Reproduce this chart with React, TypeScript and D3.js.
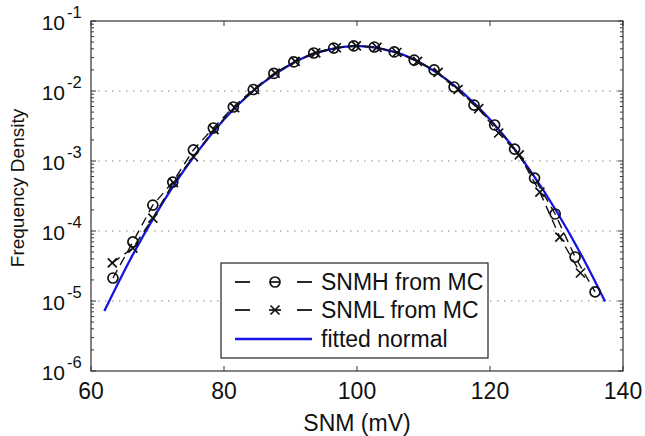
import React from "react";
import * as d3 from "d3";

const xTicks = [60, 80, 100, 120, 140];
const yExps = [-1, -2, -3, -4, -5, -6];

const snmhX = [63.3, 66.3, 69.3, 72.3, 75.4, 78.4, 81.4, 84.4, 87.5, 90.5, 93.5, 96.5, 99.5, 102.6, 105.6, 108.6, 111.6, 114.6, 117.6, 120.7, 123.7, 126.7, 129.8, 132.8, 135.8];
const snmhY = [2.13e-5, 6.97e-5, 2.35e-4, 5.0e-4, 1.44e-3, 2.96e-3, 5.91e-3, 1.05e-2, 1.78e-2, 2.6e-2, 3.49e-2, 4.11e-2, 4.4e-2, 4.25e-2, 3.61e-2, 2.77e-2, 2.0e-2, 1.14e-2, 6.3e-3, 3.27e-3, 1.48e-3, 5.7e-4, 1.75e-4, 4.25e-5, 1.35e-5];

const snmlX = [63.2, 66.3, 69.3, 72.4, 75.4, 78.5, 81.6, 84.6, 87.7, 90.7, 93.8, 96.9, 99.9, 103.0, 106.0, 109.1, 112.2, 115.2, 118.3, 121.3, 124.4, 127.5, 130.5, 133.6];
const snmlY = [3.5e-5, 5.7e-5, 1.53e-4, 4.9e-4, 1.15e-3, 2.8e-3, 5.8e-3, 1.05e-2, 1.8e-2, 2.65e-2, 3.5e-2, 4.15e-2, 4.4e-2, 4.2e-2, 3.55e-2, 2.65e-2, 1.85e-2, 1.05e-2, 5.6e-3, 2.51e-3, 1.22e-3, 3.6e-4, 8.2e-5, 2.51e-5];

const fitX = [62, 66, 70, 74, 78, 82, 86, 90, 94, 98, 100, 102, 106, 110, 114, 118, 122, 126, 130, 134, 137.3];
const fitY = [7.17e-6, 4.08e-5, 1.913e-4, 7.4e-4, 2.359e-3, 6.2e-3, 1.342e-2, 2.397e-2, 3.527e-2, 4.279e-2, 4.384e-2, 4.279e-2, 3.527e-2, 2.397e-2, 1.342e-2, 6.2e-3, 2.359e-3, 7.4e-4, 1.913e-4, 4.08e-5, 9.85e-6];

const legendLabels = ["SNMH from MC", "SNML from MC", "fitted normal"];
const xLabel = "SNM (mV)";
const yLabel = "Frequency Density";

const W = 645, H = 436;
const L = 91, R = 623, T = 21, B = 371;
const FONT = "'Liberation Sans', Arial, Helvetica, sans-serif";
const BLUE = "#1414e6";

export default function App() {
  const x = d3.scaleLinear().domain([60, 140]).range([L, R]);
  const y = d3.scaleLog().domain([1e-6, 1e-1]).range([B, T]);
  const line = d3.line<[number, number]>().x(d => x(d[0])).y(d => y(d[1]));
  const fitLine = d3.line<[number, number]>().x(d => x(d[0])).y(d => y(d[1])).curve(d3.curveNatural);

  const snmh: [number, number][] = snmhX.map((v, i) => [v, snmhY[i]]);
  const snml: [number, number][] = snmlX.map((v, i) => [v, snmlY[i]]);
  const fit: [number, number][] = fitX.map((v, i) => [v, fitY[i]]);

  const minor: number[] = [];
  for (let e = -6; e < -1; e++) for (let m = 2; m <= 9; m++) minor.push(m * Math.pow(10, e));

  const cross = (cx: number, cy: number, s: number, key: string | number) => (
    <path key={key} d={`M${cx - s},${cy - s}L${cx + s},${cy + s}M${cx - s},${cy + s}L${cx + s},${cy - s}`} stroke="#111" strokeWidth={1.7} fill="none" />
  );

  const legX = 221, legY = 263, legW = 267, legH = 95;
  const rows = [282, 310, 339];

  return (
    <svg width={W} height={H} style={{ position: "absolute", left: 0, top: 0, display: "block", background: "#fff" }} fontFamily={FONT}>
      <rect x={0} y={0} width={W} height={H} fill="#fff" />
      {yExps.filter(e => e < -1 && e > -6).map(e => (
        <line key={e} x1={L} x2={R} y1={y(Math.pow(10, e))} y2={y(Math.pow(10, e))} stroke="#888" strokeWidth={1.2} strokeDasharray="1.5,5.5" />
      ))}
      <path d={fitLine(fit) || ""} fill="none" stroke={BLUE} strokeWidth={2.3} />
      <path d={line(snmh) || ""} fill="none" stroke="#111" strokeWidth={1.4} strokeDasharray="9,6" />
      <path d={line(snml) || ""} fill="none" stroke="#111" strokeWidth={1.4} strokeDasharray="9,6" />
      {snmh.map((d, i) => (
        <circle key={"c" + i} cx={x(d[0])} cy={y(d[1])} r={5} fill="none" stroke="#111" strokeWidth={1.7} />
      ))}
      {snml.map((d, i) => cross(x(d[0]), y(d[1]), 4.5, "x" + i))}
      <rect x={L} y={T} width={R - L} height={B - T} fill="none" stroke="#333" strokeWidth={1.2} />
      {xTicks.map(t => (
        <g key={t}>
          <line x1={x(t)} x2={x(t)} y1={B} y2={B - 5} stroke="#333" />
          <line x1={x(t)} x2={x(t)} y1={T} y2={T + 5} stroke="#333" />
          <text x={x(t)} y={399} fontSize={23} textAnchor="middle" fill="#111">{t}</text>
        </g>
      ))}
      {yExps.map(e => {
        const yy = y(Math.pow(10, e));
        return (
          <g key={e}>
            <line x1={L} x2={L + 5} y1={yy} y2={yy} stroke="#333" />
            <line x1={R} x2={R - 5} y1={yy} y2={yy} stroke="#333" />
            <text x={65} y={yy + 9} fontSize={21} textAnchor="end" fill="#111">10</text>
            <text x={67} y={yy - 3} fontSize={16.5} textAnchor="start" fill="#111">{"-" + Math.abs(e)}</text>
          </g>
        );
      })}
      {minor.map((v, i) => (
        <g key={"m" + i}>
          <line x1={L} x2={L + 3} y1={y(v)} y2={y(v)} stroke="#333" />
          <line x1={R} x2={R - 3} y1={y(v)} y2={y(v)} stroke="#333" />
        </g>
      ))}
      <text x={357} y={431} fontSize={23} textAnchor="middle" fill="#111">{xLabel}</text>
      <text transform="translate(24,188) rotate(-90)" fontSize={19} textAnchor="middle" fill="#111">{yLabel}</text>
      <rect x={legX} y={legY} width={legW} height={legH} fill="#fff" stroke="#222" strokeWidth={1.2} />
      {rows.map((ry, i) => (
        <g key={"l" + i}>
          {i < 2 ? (
            <>
              <line x1={235} x2={250} y1={ry} y2={ry} stroke="#111" strokeWidth={1.8} />
              <line x1={297} x2={312} y1={ry} y2={ry} stroke="#111" strokeWidth={1.8} />
              {i === 0 ? (
                <>
                  <circle cx={275} cy={ry} r={5} fill="none" stroke="#111" strokeWidth={1.7} />
                  <line x1={270} x2={280} y1={ry} y2={ry} stroke="#111" strokeWidth={1.7} />
                </>
              ) : (
                <>
                  {cross(275, ry, 4.5, "lx")}
                  <line x1={269} x2={281} y1={ry} y2={ry} stroke="#111" strokeWidth={1.7} />
                </>
              )}
            </>
          ) : (
            <line x1={235} x2={312} y1={ry} y2={ry} stroke={BLUE} strokeWidth={2.3} />
          )}
          <text x={321} y={ry + 8} fontSize={23} fill="#111">{legendLabels[i]}</text>
        </g>
      ))}
    </svg>
  );
}
